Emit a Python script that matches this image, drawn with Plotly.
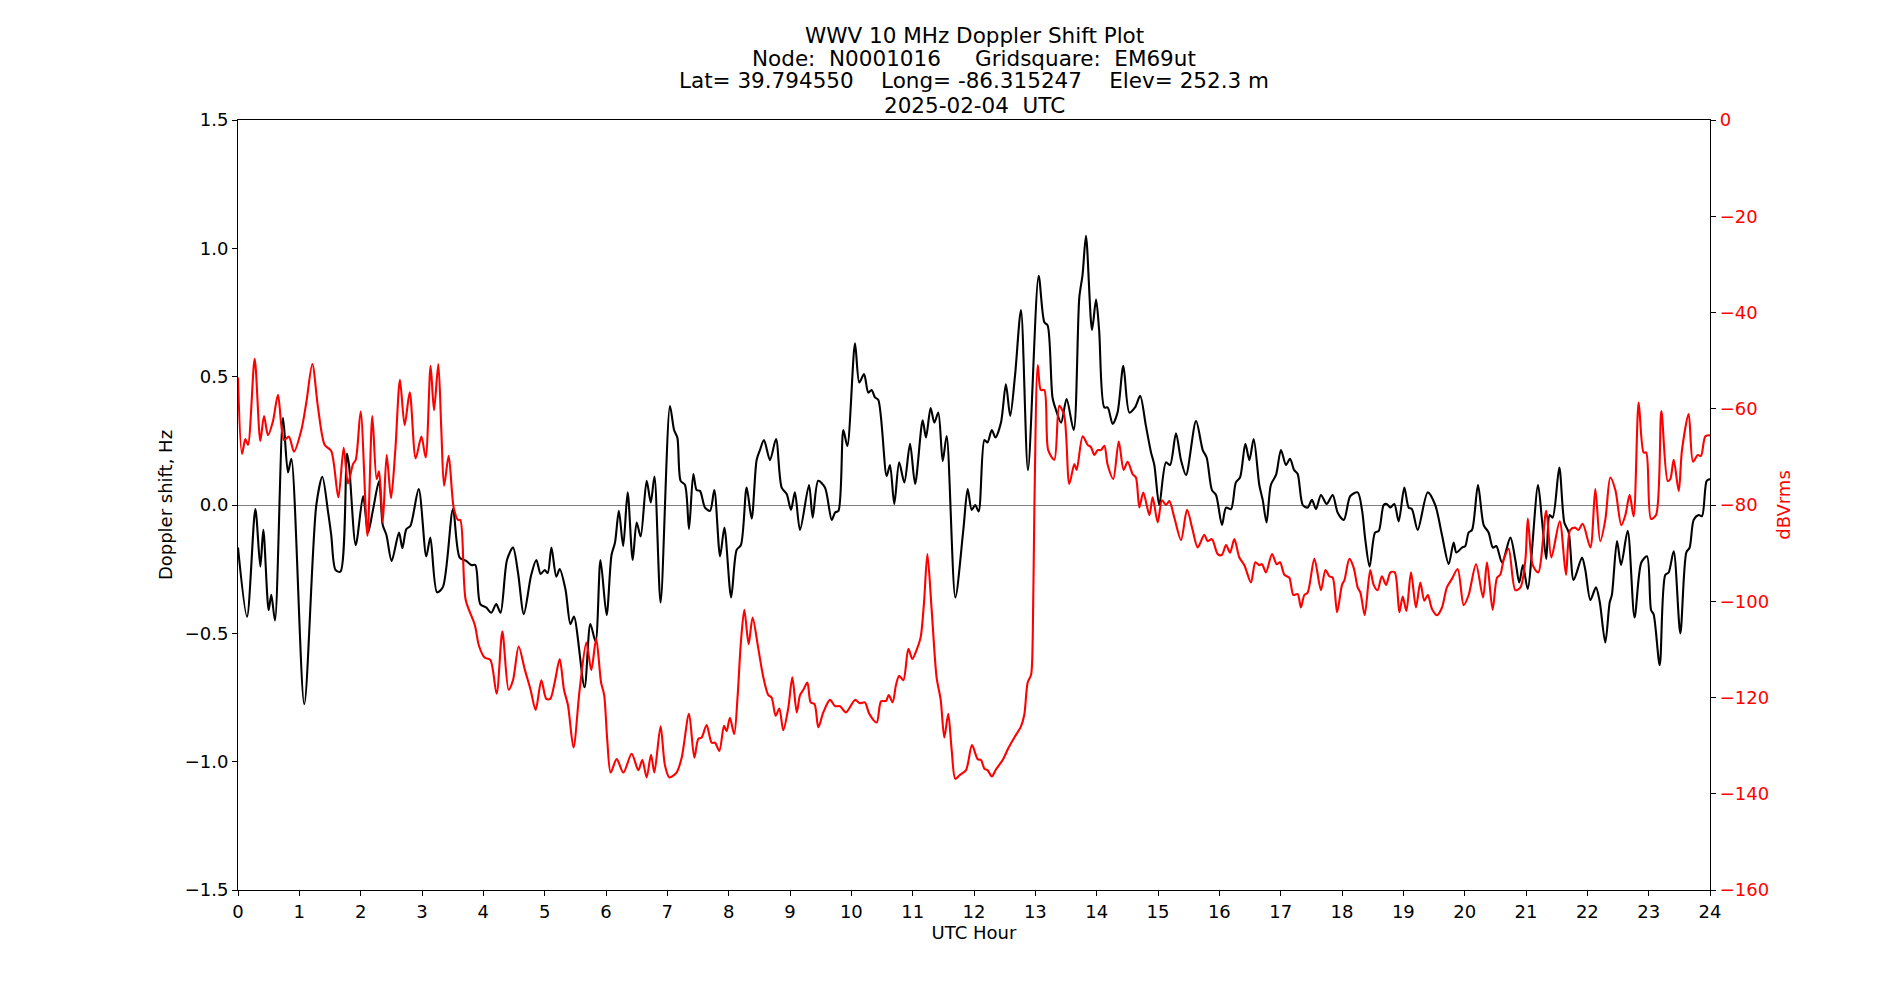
import plotly.graph_objects as go

# ---- Doppler shift (black, left axis) ----
dop_hour = [0.0, 0.147, 0.283, 0.364, 0.413, 0.5, 0.543, 0.603, 0.734, 0.815, 0.87, 1.08, 1.277, 1.375, 1.47, 1.52,
            1.59, 1.67, 1.777, 1.81, 1.92, 2.04, 2.12, 2.2, 2.3, 2.36, 2.42, 2.505, 2.625, 2.68, 2.745, 2.81, 2.946,
            3.07, 3.136, 3.245, 3.34, 3.505, 3.614, 3.72, 3.804, 3.87, 3.95, 4.05, 4.13, 4.21, 4.28, 4.386, 4.484,
            4.565, 4.66, 4.78, 4.864, 4.935, 5.0, 5.05, 5.11, 5.19, 5.245, 5.34, 5.42, 5.478, 5.65, 5.745, 5.83,
            5.91, 6.01, 6.09, 6.147, 6.21, 6.28, 6.353, 6.435, 6.5, 6.565, 6.663, 6.73, 6.79, 6.89, 7.043, 7.11,
            7.163, 7.217, 7.288, 7.353, 7.424, 7.478, 7.533, 7.614, 7.696, 7.766, 7.86, 7.93, 8.04, 8.13, 8.2,
            8.293, 8.375, 8.456, 8.51, 8.576, 8.674, 8.772, 8.864, 8.946, 9.016, 9.08, 9.163, 9.31, 9.37, 9.46,
            9.57, 9.68, 9.736, 9.79, 9.87, 9.935, 10.06, 10.13, 10.207, 10.277, 10.33, 10.386, 10.44, 10.576,
            10.63, 10.7, 10.78, 10.864, 10.957, 11.04, 11.163, 11.217, 11.293, 11.353, 11.418, 11.49, 11.554,
            11.696, 11.826, 11.897, 11.962, 12.02, 12.076, 12.17, 12.22, 12.29, 12.35, 12.44, 12.52, 12.59, 12.67,
            12.766, 12.88, 13.054, 13.147, 13.2, 13.28, 13.337, 13.42, 13.51, 13.625, 13.717, 13.77, 13.826,
            13.924, 13.99, 14.04, 14.125, 14.18, 14.26, 14.34, 14.435, 14.533, 14.625, 14.71, 14.8, 14.886, 14.94,
            15.02, 15.13, 15.196, 15.293, 15.375, 15.457, 15.62, 15.73, 15.793, 15.88, 15.946, 16.043, 16.11,
            16.19, 16.27, 16.337, 16.424, 16.49, 16.56, 16.652, 16.707, 16.77, 16.84, 16.924, 17.005, 17.087,
            17.152, 17.22, 17.277, 17.36, 17.44, 17.51, 17.576, 17.657, 17.75, 17.848, 17.93, 18.03, 18.136,
            18.255, 18.326, 18.38, 18.45, 18.54, 18.6, 18.68, 18.73, 18.79, 18.853, 18.924, 19.016, 19.087, 19.14,
            19.234, 19.397, 19.52, 19.63, 19.74, 19.82, 19.864, 19.957, 20.01, 20.065, 20.12, 20.217, 20.31,
            20.39, 20.46, 20.516, 20.61, 20.745, 20.826, 20.89, 20.95, 21.027, 21.196, 21.26, 21.33, 21.386,
            21.435, 21.543, 21.625, 21.696, 21.777, 21.913, 21.967, 22.05, 22.14, 22.2, 22.293, 22.364, 22.4,
            22.484, 22.55, 22.658, 22.77, 22.88, 22.973, 23.04, 23.08, 23.18, 23.27, 23.326, 23.408, 23.516,
            23.614, 23.668, 23.734, 23.815, 23.87, 23.946, 24.0]
dop_hz = [-0.166, -0.435, -0.016, -0.24, -0.097, -0.41, -0.35, -0.45, 0.34, 0.127, 0.18, -0.776, 0.0, 0.11, -0.03,
          -0.117, -0.253, -0.26, 0.2, 0.156, -0.156, 0.035, -0.107, -0.02, 0.093, -0.078, -0.117, -0.218, -0.107,
          -0.168, -0.094, -0.082, 0.062, -0.2, -0.127, -0.34, -0.32, -0.016, -0.205, -0.218, -0.234, -0.234,
          -0.386, -0.4, -0.42, -0.386, -0.42, -0.214, -0.166, -0.263, -0.425, -0.273, -0.214, -0.269, -0.253,
          -0.265, -0.166, -0.279, -0.25, -0.33, -0.464, -0.435, -0.71, -0.464, -0.532, -0.214, -0.429, -0.195,
          -0.146, -0.023, -0.16, 0.049, -0.214, -0.068, -0.123, 0.094, 0.01, 0.111, -0.38, 0.386, 0.292, 0.263,
          0.094, 0.078, -0.094, 0.121, 0.058, 0.055, -0.01, -0.023, 0.058, -0.2, -0.088, -0.36, -0.175, -0.156,
          0.068, -0.053, 0.175, 0.214, 0.253, 0.175, 0.257, 0.068, 0.043, -0.019, 0.049, -0.097, 0.078, -0.049,
          0.094, 0.068, -0.058, -0.029, -0.023, 0.292, 0.23, 0.63, 0.477, 0.51, 0.438, 0.448, 0.419, 0.409, 0.113,
          0.156, 0.004, 0.166, 0.088, 0.238, 0.082, 0.33, 0.263, 0.378, 0.321, 0.36, 0.171, 0.269, -0.36, -0.097,
          0.062, -0.019, 0.0, -0.025, 0.253, 0.244, 0.292, 0.263, 0.321, 0.47, 0.347, 0.507, 0.76, 0.136, 0.893,
          0.712, 0.7, 0.419, 0.37, 0.321, 0.413, 0.292, 0.809, 0.897, 1.049, 0.682, 0.8, 0.682, 0.38, 0.38,
          0.316, 0.36, 0.542, 0.36, 0.38, 0.425, 0.312, 0.205, 0.156, 0.0, 0.166, 0.156, 0.279, 0.175, 0.117,
          0.327, 0.214, 0.185, 0.058, 0.039, -0.078, -0.01, -0.016, 0.088, 0.107, 0.238, 0.175, 0.257, 0.078,
          0.02, -0.068, 0.078, 0.117, 0.214, 0.156, 0.18, 0.136, 0.121, 0.0, -0.01, 0.02, -0.016, 0.039, 0.004,
          0.039, -0.03, -0.058, 0.035, 0.049, -0.019, -0.136, -0.24, -0.107, -0.101, 0.0, 0.004, -0.01, 0.004,
          -0.064, 0.068, -0.01, -0.016, -0.097, 0.049, 0.0, -0.117, -0.23, -0.146, -0.185, -0.166, -0.16, -0.107,
          -0.097, 0.078, -0.078, -0.107, -0.166, -0.16, -0.224, -0.127, -0.214, -0.302, -0.234, -0.327, 0.078,
          -0.058, -0.21, -0.039, -0.049, 0.146, -0.068, -0.107, -0.292, -0.205, -0.253, -0.37, -0.321, -0.374,
          -0.536, -0.38, -0.35, -0.14, -0.234, -0.101, -0.438, -0.224, -0.2, -0.41, -0.425, -0.624, -0.273,
          -0.263, -0.18, -0.5, -0.185, -0.166, -0.058, -0.039, -0.043, 0.094, 0.101]

# ---- Signal level (red, right axis) ----
lvl_hour = [0.0, 0.065, 0.12, 0.163, 0.272, 0.364, 0.424, 0.489, 0.57, 0.652, 0.75, 0.83, 0.913, 1.033, 1.114, 1.212,
            1.304, 1.413, 1.52, 1.636, 1.723, 1.793, 1.875, 1.92, 2.0, 2.11, 2.19, 2.26, 2.3, 2.36, 2.424, 2.495,
            2.565, 2.64, 2.717, 2.8, 2.897, 2.99, 3.06, 3.14, 3.196, 3.266, 3.315, 3.36, 3.435, 3.516, 3.587,
            3.625, 3.712, 3.86, 3.93, 4.02, 4.114, 4.217, 4.31, 4.413, 4.484, 4.576, 4.674, 4.77, 4.853, 4.946,
            5.027, 5.09, 5.163, 5.245, 5.315, 5.38, 5.47, 5.57, 5.68, 5.76, 5.84, 5.92, 5.97, 6.02, 6.076, 6.174,
            6.283, 6.418, 6.527, 6.592, 6.663, 6.734, 6.788, 6.89, 6.96, 7.033, 7.15, 7.234, 7.353, 7.44, 7.505,
            7.56, 7.64, 7.723, 7.777, 7.848, 7.924, 7.967, 8.02, 8.09, 8.147, 8.196, 8.255, 8.326, 8.39, 8.484,
            8.565, 8.647, 8.7, 8.766, 8.826, 8.89, 8.973, 9.038, 9.11, 9.163, 9.217, 9.283, 9.337, 9.4, 9.462,
            9.543, 9.652, 9.734, 9.815, 9.913, 10.06, 10.14, 10.22, 10.293, 10.413, 10.484, 10.565, 10.61, 10.674,
            10.728, 10.78, 10.848, 10.93, 10.995, 11.065, 11.13, 11.185, 11.24, 11.31, 11.39, 11.457, 11.516,
            11.58, 11.636, 11.696, 11.77, 11.87, 11.967, 12.06, 12.114, 12.17, 12.22, 12.29, 12.36, 12.467,
            12.565, 12.658, 12.766, 12.82, 12.875, 12.93, 12.957, 12.984, 13.04, 13.09, 13.147, 13.21, 13.31,
            13.39, 13.47, 13.554, 13.636, 13.674, 13.772, 13.853, 13.908, 13.962, 14.016, 14.07, 14.125, 14.18,
            14.27, 14.36, 14.44, 14.505, 14.587, 14.64, 14.696, 14.76, 14.86, 14.913, 14.995, 15.065, 15.13,
            15.185, 15.266, 15.375, 15.473, 15.565, 15.647, 15.755, 15.81, 15.88, 15.973, 16.04, 16.11, 16.174,
            16.245, 16.326, 16.408, 16.516, 16.587, 16.652, 16.696, 16.76, 16.86, 16.935, 16.99, 17.06, 17.14,
            17.207, 17.277, 17.33, 17.386, 17.44, 17.55, 17.657, 17.73, 17.793, 17.848, 17.92, 18.0, 18.04, 18.12,
            18.19, 18.255, 18.3, 18.37, 18.46, 18.516, 18.58, 18.65, 18.72, 18.79, 18.86, 18.935, 18.99, 19.05,
            19.125, 19.206, 19.277, 19.342, 19.4, 19.467, 19.55, 19.63, 19.71, 19.79, 19.886, 19.984, 20.065,
            20.185, 20.3, 20.364, 20.456, 20.527, 20.58, 20.636, 20.717, 20.826, 20.91, 20.99, 21.03, 21.11, 21.2,
            21.33, 21.413, 21.55, 21.652, 21.72, 21.8, 21.853, 21.924, 22.05, 22.13, 22.21, 22.293, 22.375,
            22.457, 22.554, 22.62, 22.69, 22.755, 22.837, 22.918, 22.96, 23.038, 23.12, 23.207, 23.31, 23.353,
            23.408, 23.49, 23.543, 23.652, 23.723, 23.8, 23.853, 23.924, 24.0]
lvl_db = [-53.5, -69.4, -66.3, -67.5, -49.6, -66.7, -61.5, -65.5, -62.6, -57.1, -66.5, -65.8, -68.9, -64.4, -58.7,
          -50.7, -59.7, -67.5, -68.8, -78.4, -68.1, -75.5, -71.5, -70.6, -60.6, -86.4, -61.5, -74.6, -73.0, -83.6,
          -69.6, -78.6, -68.6, -54.0, -63.4, -56.6, -70.3, -65.8, -70.1, -51.1, -60.3, -50.7, -64.4, -76.0, -69.8,
          -80.5, -83.1, -83.1, -99.7, -104.9, -109.3, -111.7, -112.2, -119.2, -106.3, -118.4, -116.4, -109.4,
          -114.1, -118.4, -122.6, -116.4, -120.3, -120.3, -116.9, -112.0, -118.4, -121.6, -130.4, -118.4, -108.6,
          -114.3, -107.8, -116.9, -119.5, -128.8, -135.6, -132.8, -135.6, -131.7, -135.1, -133.0, -136.6, -131.9,
          -135.6, -126.0, -134.0, -136.6, -135.6, -132.5, -123.4, -132.5, -128.6, -128.3, -125.7, -129.4, -129.4,
          -131.1, -125.9, -127.0, -124.2, -127.6, -119.5, -109.1, -101.8, -108.9, -103.4, -109.9, -115.8, -119.5,
          -120.0, -123.8, -122.3, -126.8, -122.1, -115.8, -123.1, -119.5, -118.4, -116.9, -121.0, -121.4, -126.2,
          -123.1, -120.5, -121.8, -121.8, -123.1, -120.5, -121.2, -121.0, -123.4, -125.2, -120.8, -120.7, -119.5,
          -121.0, -117.4, -115.5, -116.4, -109.9, -112.0, -110.1, -107.5, -100.3, -90.2, -101.8, -115.8, -120.5,
          -128.3, -123.4, -130.9, -136.9, -136.1, -135.1, -129.9, -132.8, -133.0, -134.8, -135.1, -136.4, -134.9,
          -133.0, -130.4, -128.3, -126.0, -123.6, -116.9, -115.3, -108.0, -81.0, -50.9, -56.1, -56.1, -68.6,
          -70.6, -59.4, -61.3, -75.6, -71.5, -72.7, -65.7, -67.5, -68.0, -69.6, -68.6, -68.6, -67.7, -71.7, -74.6,
          -66.8, -72.7, -71.0, -73.6, -74.3, -80.5, -77.4, -82.1, -78.4, -83.6, -79.0, -80.0, -79.2, -82.6, -87.3,
          -81.0, -85.2, -88.8, -86.2, -87.5, -87.1, -90.2, -90.4, -88.3, -89.9, -87.1, -90.9, -92.5, -96.1, -91.9,
          -92.5, -92.3, -94.0, -90.2, -92.3, -91.9, -94.5, -95.1, -98.7, -98.5, -101.3, -98.7, -98.2, -91.2,
          -97.7, -93.5, -94.8, -95.1, -102.3, -96.6, -95.6, -91.2, -93.0, -97.1, -98.2, -102.9, -93.5, -96.6,
          -97.7, -94.8, -96.6, -94.0, -94.0, -102.3, -99.0, -102.0, -94.0, -101.3, -96.1, -99.9, -98.7, -101.6,
          -102.9, -101.3, -97.1, -95.4, -93.3, -100.8, -98.7, -92.3, -99.2, -91.9, -101.8, -95.1, -94.5, -91.4,
          -89.1, -97.7, -97.1, -91.4, -82.8, -92.5, -94.0, -81.2, -90.9, -83.4, -94.5, -85.2, -84.7, -85.2, -83.9,
          -88.8, -76.7, -87.5, -83.1, -74.3, -76.9, -84.2, -82.1, -77.9, -82.4, -58.7, -69.1, -69.1, -82.9,
          -82.1, -60.5, -75.0, -74.6, -70.6, -77.1, -68.6, -61.1, -71.0, -69.6, -69.8, -65.7, -65.5]

x_ticks = list(range(0, 25))
y_ticks = [-1.5, -1.0, -0.5, 0.0, 0.5, 1.0, 1.5]
y2_ticks = [-160, -140, -120, -100, -80, -60, -40, -20, 0]

title_lines = ["WWV 10 MHz Doppler Shift Plot",
               "Node:  N0001016     Gridsquare:  EM69ut",
               "Lat= 39.794550    Long= -86.315247    Elev= 252.3 m",
               "2025-02-04  UTC"]

FONT = "DejaVu Sans"
W, H = 1900, 1000
M_L, M_R, M_T, M_B = 237.5, 190, 120, 110
TICK_SIZE = 18

fig = go.Figure()
fig.add_trace(go.Scatter(x=dop_hour, y=dop_hz, mode="lines", yaxis="y",
                         line=dict(color="black", width=2.1, shape="spline", smoothing=0.8),
                         showlegend=False))
fig.add_trace(go.Scatter(x=lvl_hour, y=lvl_db, mode="lines", yaxis="y2",
                         line=dict(color="red", width=2.1, shape="spline", smoothing=0.8),
                         showlegend=False))

# title lines, centred over the plot area
plot_h = H - M_T - M_B
line_centres = [35.5, 58, 80.5, 105.5]
for txt, yc in zip(title_lines, line_centres):
    fig.add_annotation(text=txt, xref="paper", yref="paper", x=0.5, y=(H - M_B - yc) / plot_h,
                       xanchor="center", yanchor="middle", showarrow=False,
                       font=dict(family=FONT, size=21.5, color="black"))

axis_common = dict(showgrid=False, ticks="outside", ticklen=5, tickwidth=1.1, tickcolor="black",
                   linecolor="black", linewidth=1.1, showline=True)

fig.update_layout(
    width=W, height=H,
    margin=dict(l=M_L, r=M_R, t=M_T, b=M_B, autoexpand=False),
    paper_bgcolor="white", plot_bgcolor="white",
    font=dict(family=FONT, size=TICK_SIZE, color="black"),
    xaxis=dict(range=[0, 24], tickmode="array", tickvals=x_ticks, ticktext=[str(t) for t in x_ticks],
               mirror=True, zeroline=False, tickfont=dict(size=TICK_SIZE),
               title=dict(text="UTC Hour", standoff=5, font=dict(size=TICK_SIZE)), **axis_common),
    yaxis=dict(range=[-1.5, 1.5], tickmode="array", tickvals=y_ticks, tickformat=".1f",
               zeroline=True, zerolinecolor="#808080", zerolinewidth=1.2, tickfont=dict(size=TICK_SIZE),
               title=dict(text="Doppler shift, Hz", standoff=7, font=dict(size=TICK_SIZE)), **axis_common),
    yaxis2=dict(range=[-160, 0], tickmode="array", tickvals=y2_ticks, overlaying="y", side="right",
                zeroline=False, tickfont=dict(color="red", size=TICK_SIZE),
                title=dict(text="dBVrms", standoff=9, font=dict(size=TICK_SIZE, color="red")), **axis_common),
)

fig.write_html("out.html")
